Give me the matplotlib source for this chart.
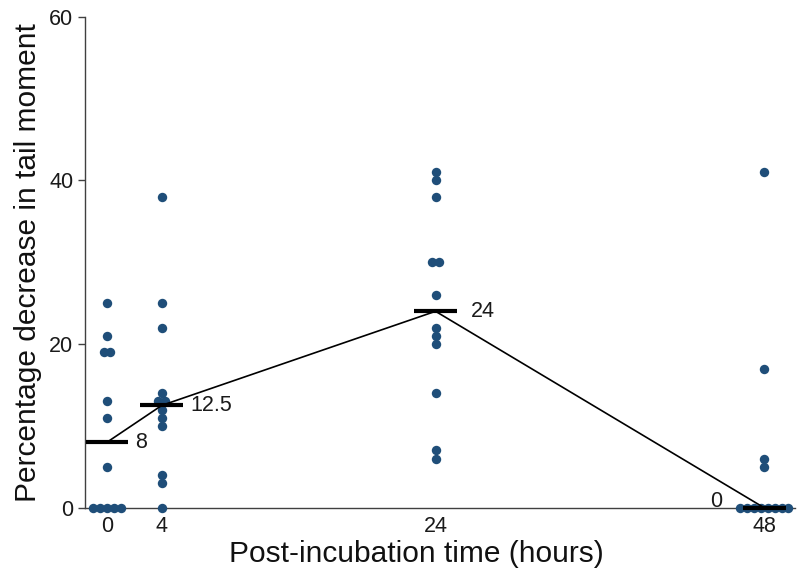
import matplotlib
matplotlib.use("Agg")
import matplotlib.pyplot as plt
import numpy as np

plt.rcParams['font.family'] = ['Liberation Sans', 'DejaVu Sans']

times = [0, 4, 24, 48]
time_labels = ["0", "4", "24", "48"]
vals_0h = [25, 21, 19, 19, 13, 11, 5, 0, 0, 0, 0, 0]
vals_4h = [38, 25, 22, 14, 13, 13, 12, 11, 10, 4, 3, 0]
vals_24h = [41, 40, 38, 30, 30, 26, 22, 21, 20, 14, 7, 6]
vals_48h = [41, 17, 6, 5, 0, 0, 0, 0, 0, 0, 0, 0]
groups = [vals_0h, vals_4h, vals_24h, vals_48h]
median_labels = ["8", "12.5", "24", "0"]

dot_color = "#1F4E79"

fig = plt.figure(figsize=(8, 5.8), dpi=100)
ax = fig.add_axes([85/800, 1 - 507.7/580, (795-85)/800, (507.7-16.7)/580])

spacing = 0.51
medians = []
for t, vals in zip(times, groups):
    vals = np.array(vals, dtype=float)
    xs = np.zeros_like(vals)
    for v in np.unique(vals):
        idx = np.where(vals == v)[0]
        n = len(idx)
        xs[idx] = t + (np.arange(n) - (n - 1) / 2) * spacing
    ax.scatter(xs, vals, s=46, color=dot_color, zorder=3, clip_on=False, linewidths=0)
    medians.append(np.median(vals))

ax.plot(times, medians, color="black", lw=1.2, zorder=4, clip_on=False)
half = 1.57
for t, m in zip(times, medians):
    ax.plot([t - half, t + half], [m, m], color="black", lw=3, zorder=5,
            solid_capstyle="butt", clip_on=False)

fs = 15.5
offsets = [(7, 0), (7, 0), (14, 0), (-20, 0)]
for t, m, lab, off in zip(times, medians, median_labels, offsets):
    if off[0] > 0:
        ax.annotate(lab, xy=(t + half, m), xytext=(off[0] * 0.72, 0),
                    textcoords="offset points", ha="left", va="center",
                    fontsize=fs, color="#1a1a1a")
    else:
        ax.annotate(lab, xy=(t - half, m), xytext=(off[0] * 0.72, 0.5),
                    textcoords="offset points", ha="right", va="baseline",
                    fontsize=fs, color="#1a1a1a")

ax.set_xlim(-1.607, 50.26)
ax.set_ylim(0, 60)
ax.set_xticks(times)
ax.set_xticklabels(time_labels)
ax.set_yticks([0, 20, 40, 60])
ax.tick_params(axis="x", length=0, pad=6, labelsize=fs, labelcolor="#1a1a1a")
ax.tick_params(axis="y", length=5, width=1, pad=3.5, labelsize=fs,
               color="#404040", labelcolor="#1a1a1a")
for s in ["top", "right"]:
    ax.spines[s].set_visible(False)
ax.spines["left"].set_color("#404040")
ax.spines["bottom"].set_color("#404040")
ax.spines["left"].set_linewidth(1)
ax.spines["bottom"].set_linewidth(1)

ax.set_xlabel("Post-incubation time (hours)", fontsize=21.5, color="#111111")
ax.set_ylabel("Percentage decrease in tail moment", fontsize=21.5, color="#111111", labelpad=5)
ax.xaxis.set_label_coords((416 - 85) / 710, -0.066, transform=ax.transAxes)
ax.xaxis.label.set_va("top")

fig.savefig("out.png", dpi=100)
